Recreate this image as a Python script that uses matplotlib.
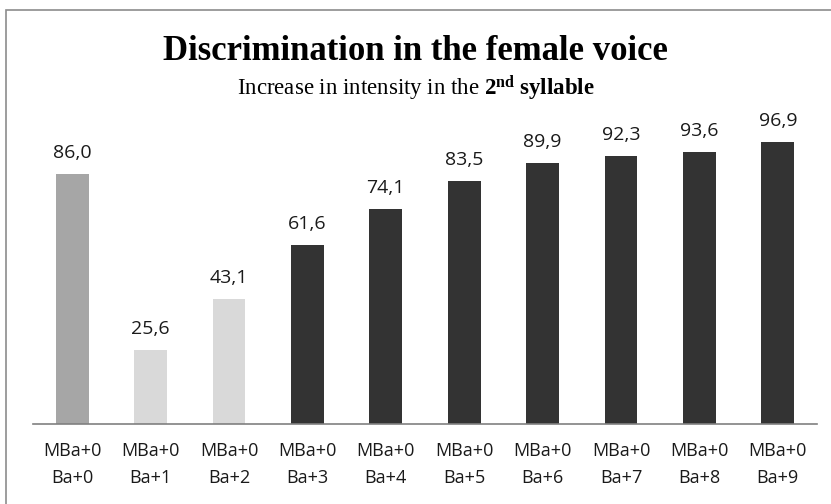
import matplotlib
matplotlib.use("Agg")
import matplotlib.pyplot as plt
from matplotlib.patches import Rectangle

plt.rcParams["mathtext.fontset"] = "custom"
plt.rcParams["mathtext.rm"] = "Liberation Serif"
plt.rcParams["mathtext.bf"] = "Liberation Serif:bold"
plt.rcParams["mathtext.it"] = "Liberation Serif:italic"

categories = ["MBa+0\nBa+0", "MBa+0\nBa+1", "MBa+0\nBa+2", "MBa+0\nBa+3", "MBa+0\nBa+4",
              "MBa+0\nBa+5", "MBa+0\nBa+6", "MBa+0\nBa+7", "MBa+0\nBa+8", "MBa+0\nBa+9"]
values = [86.0, 25.6, 43.1, 61.6, 74.1, 83.5, 89.9, 92.3, 93.6, 96.9]
bar_colors = ["#a6a6a6", "#d9d9d9", "#d9d9d9", "#333333", "#333333",
              "#333333", "#333333", "#333333", "#333333", "#333333"]

W, H = 831, 504
fig = plt.figure(figsize=(W / 100, H / 100), dpi=100)
fig.patch.set_facecolor("white")

# outer chart frame
fig.add_artist(Rectangle((5.5 / W, -0.1), 1.2, 1 - 10 / H + 0.1, transform=fig.transFigure,
                         fill=False, edgecolor="#8c8c8c", linewidth=1.2))

base_y = 424
px_per_unit = (424 - 174) / 86.0
top_val = (base_y - 30) / px_per_unit
ax = fig.add_axes([33 / W, (H - base_y) / H, (817 - 33) / W, (base_y - 30) / H])
ax.set_xlim(-0.5, 9.5)
ax.set_ylim(0, top_val)

x = range(len(values))
ax.bar(x, values, width=0.42, color=bar_colors, zorder=2)

label_font = ["Open Sans", "DejaVu Sans"]
for xi, v in zip(x, values):
    ax.annotate(f"{v:.1f}".replace(".", ","), (xi, v), xytext=(0, 11.5), textcoords="offset points",
                ha="center", va="baseline", fontsize=14, color="#1a1a1a", family=label_font)

for s in ["top", "right", "left"]:
    ax.spines[s].set_visible(False)
ax.spines["bottom"].set_color("#808080")
ax.spines["bottom"].set_linewidth(1.2)
ax.set_yticks([])
ax.set_xticks(list(x))
ax.set_xticklabels(categories, fontsize=13, family=label_font, color="#1a1a1a", linespacing=1.65)
ax.tick_params(axis="x", length=0, pad=13)

fig.text(0.5, 1 - 51 / H, "Discrimination in the female voice", ha="center", va="center",
         fontsize=25, fontweight="bold", family="Liberation Serif")
fig.text(0.5, 1 - 88 / H, r"Increase in intensity in the $\mathbf{2^{nd}\ syllable}$",
         ha="center", va="center", fontsize=16.5, family="Liberation Serif")

fig.savefig("out.png", dpi=100)
